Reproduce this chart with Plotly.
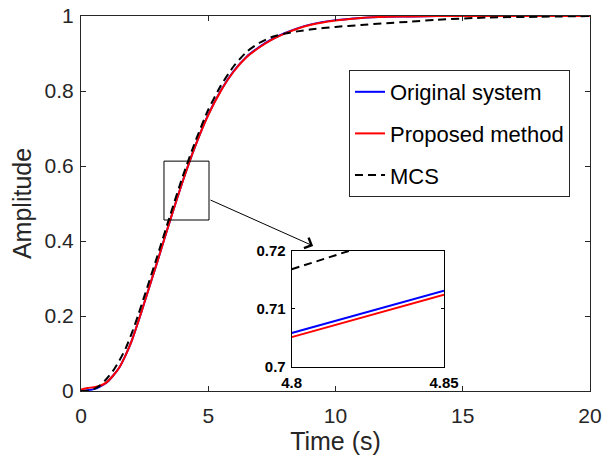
import plotly.graph_objects as go

# ---------------- data ----------------
t = [0, 0.25, 0.5, 0.75, 1.0, 1.25, 1.5, 1.75, 2.0, 2.25, 2.5, 3.0, 3.5, 4.0, 4.5,
     5.0, 5.5, 6.0, 6.5, 7.0, 7.5, 8.0, 8.5, 9.0, 10.0, 11.0, 12.0, 13.0, 14.0,
     16.0, 18.0, 20.0]
original = [0, 0.002, 0.005, 0.012, 0.022, 0.04, 0.062, 0.095, 0.135, 0.185, 0.238,
            0.345, 0.455, 0.56, 0.655, 0.737, 0.802, 0.853, 0.891, 0.917, 0.938,
            0.954, 0.967, 0.977, 0.989, 0.995, 0.998, 0.999, 1.0, 1.0, 1.0, 1.0]
proposed = [0.004, 0.008, 0.01, 0.014, 0.023, 0.04, 0.062, 0.095, 0.135, 0.185, 0.238,
            0.345, 0.455, 0.56, 0.655, 0.736, 0.801, 0.852, 0.89, 0.916, 0.937,
            0.953, 0.966, 0.976, 0.988, 0.995, 0.998, 0.999, 1.0, 1.0, 1.0, 1.0]
mcs = [0, 0.001, 0.005, 0.015, 0.032, 0.053, 0.08, 0.113, 0.155, 0.203, 0.255,
       0.36, 0.468, 0.573, 0.667, 0.75, 0.815, 0.866, 0.904, 0.928, 0.944,
       0.953, 0.959, 0.964, 0.971, 0.976, 0.981, 0.985, 0.99, 0.996, 0.998, 1.0]

# zoomed inset values
t_zoom = [4.8, 4.85]
original_zoom = [0.7058, 0.7131]
proposed_zoom = [0.7051, 0.7124]
mcs_zoom = [0.7168, 0.7252]

x_ticks = [0, 5, 10, 15, 20]
y_ticks = [0, 0.2, 0.4, 0.6, 0.8, 1]
inset_x_ticks = [4.8, 4.85]
inset_x_labels = ["4.8", "4.85"]
inset_y_ticks = [0.7, 0.71, 0.72]
inset_y_labels = ["0.7", "0.71", "0.72"]

series_names = ["Original system", "Proposed method", "MCS"]

# zoom box & arrow (data units of the main axes)
zoom_box = dict(x0=3.26, x1=5.03, y0=0.456, y1=0.613)
arrow_from = (5.03, 0.511)
arrow_to = (9.12, 0.387)

# ---------------- figure ----------------
FONT = "Liberation Sans, Arial, Helvetica, sans-serif"
TXT = "#262626"

fig = go.Figure()
fig.add_trace(go.Scatter(x=t, y=original, mode="lines", name=series_names[0],
                         line=dict(color="#0000ff", width=2, shape="spline", smoothing=0.6),
                         legendgroup="a"))
fig.add_trace(go.Scatter(x=t, y=proposed, mode="lines", name=series_names[1],
                         line=dict(color="#ff0000", width=2, shape="spline", smoothing=0.6),
                         legendgroup="b"))
fig.add_trace(go.Scatter(x=t, y=mcs, mode="lines", name=series_names[2],
                         line=dict(color="#000000", width=2, dash="8px,5px",
                                   shape="spline", smoothing=0.6),
                         legendgroup="c"))

# inset traces
fig.add_trace(go.Scatter(x=t_zoom, y=original_zoom, mode="lines", showlegend=False,
                         line=dict(color="#0000ff", width=2), xaxis="x2", yaxis="y2"))
fig.add_trace(go.Scatter(x=t_zoom, y=proposed_zoom, mode="lines", showlegend=False,
                         line=dict(color="#ff0000", width=2), xaxis="x2", yaxis="y2"))
fig.add_trace(go.Scatter(x=t_zoom, y=mcs_zoom, mode="lines", showlegend=False,
                         line=dict(color="#000000", width=2, dash="8px,5px"),
                         xaxis="x2", yaxis="y2"))

W, H = 610, 458
L, R, T, B = 81, 20, 16, 67
pw, ph = W - L - R, H - T - B

def px_to_paper_x(px):
    return (px - L) / pw

def px_to_paper_y(py):
    return (H - B - py) / ph

axis_common = dict(showgrid=False, zeroline=False, ticks="inside", ticklen=5,
                   tickcolor=TXT, linecolor=TXT, linewidth=1, mirror="ticks",
                   showline=True, automargin=False,
                   tickfont=dict(family=FONT, size=21, color=TXT))

inset_common = dict(showgrid=False, zeroline=False, ticks="inside", ticklen=3,
                    tickcolor="#000", linecolor="#000", linewidth=1, mirror="ticks",
                    showline=True, ticklabelstandoff=2, automargin=False,
                    tickfont=dict(family=FONT, size=15, color="#000", weight="bold"))

fig.update_layout(
    template="none",
    width=W, height=H,
    margin=dict(l=L, r=R, t=T, b=B, autoexpand=False),
    paper_bgcolor="white", plot_bgcolor="white",
    font=dict(family=FONT, color=TXT),
    xaxis=dict(range=[0, 20], tickvals=x_ticks, domain=[0, 1],
               title=dict(text="Time (s)", font=dict(family=FONT, size=25, color=TXT), standoff=2),
               ticklabelstandoff=6, **axis_common),
    yaxis=dict(range=[0, 1], tickvals=y_ticks, domain=[0, 1],
               title=dict(text="Amplitude", font=dict(family=FONT, size=25, color=TXT), standoff=5),
               ticklabelstandoff=2, **axis_common),
    xaxis2=dict(range=[4.8, 4.85], tickvals=inset_x_ticks, ticktext=inset_x_labels,
                domain=[px_to_paper_x(291.7), px_to_paper_x(444)], anchor="y2",
                **inset_common),
    yaxis2=dict(range=[0.7, 0.72], tickvals=inset_y_ticks, ticktext=inset_y_labels,
                domain=[px_to_paper_y(366.7), px_to_paper_y(250.7)], anchor="x2",
                **inset_common),
    legend=dict(x=px_to_paper_x(349), y=px_to_paper_y(70), xanchor="left", yanchor="top",
                bgcolor="white", bordercolor=TXT, borderwidth=1,
                font=dict(family=FONT, size=22, color="#000"),
                traceorder="grouped", tracegroupgap=10, itemwidth=30),
    showlegend=True,
)

# inset background
fig.add_shape(type="rect", xref="paper", yref="paper", layer="below",
              x0=px_to_paper_x(291.7), x1=px_to_paper_x(444),
              y0=px_to_paper_y(366.7), y1=px_to_paper_y(250.7),
              fillcolor="white", line=dict(width=0))

# zoom rectangle
fig.add_shape(type="rect", xref="x", yref="y", line=dict(color="#000", width=1),
              fillcolor="rgba(0,0,0,0)", **zoom_box)

# arrow
fig.add_annotation(x=arrow_to[0], y=arrow_to[1], ax=arrow_from[0], ay=arrow_from[1],
                   xref="x", yref="y", axref="x", ayref="y", text="",
                   showarrow=True, arrowhead=4, arrowsize=2.2, arrowwidth=1,
                   arrowcolor="#000")

fig.write_html("out.html")
